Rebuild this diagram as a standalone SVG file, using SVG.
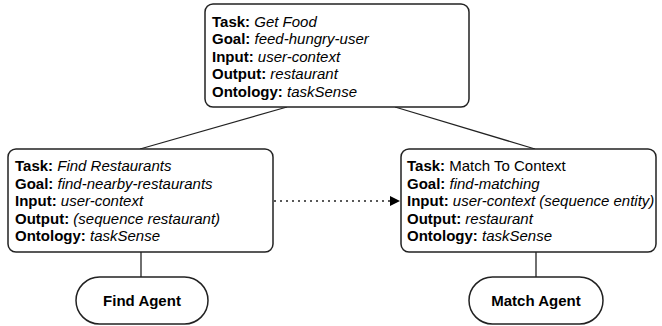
<svg xmlns="http://www.w3.org/2000/svg" width="662" height="326" viewBox="0 0 662 326">
<defs>
<style>
.box{fill:#fff;stroke:#222;stroke-width:1.5}
.ln{stroke:#222;stroke-width:1.3;fill:none}
text{font-family:"Liberation Sans",Arial,sans-serif;font-size:15px;fill:#000}
.b{font-weight:bold}
.i{font-style:italic}
.c{text-anchor:middle}
</style>
<marker id="ah" viewBox="0 0 10 10" refX="10" refY="5" markerWidth="10" markerHeight="10" markerUnits="userSpaceOnUse" orient="auto">
<path d="M0,0 L10,5 L0,10 z" fill="#000"/>
</marker>
</defs>
<g id="connectors">
<line class="ln" x1="287" y1="107" x2="140" y2="149"/>
<line class="ln" x1="395" y1="107" x2="535" y2="149"/>
<line class="ln" x1="141" y1="252" x2="141" y2="277"/>
<line class="ln" x1="536" y1="252" x2="536" y2="277"/>
<line class="ln" x1="274" y1="201" x2="400" y2="201" stroke-dasharray="2,4" marker-end="url(#ah)"/>
</g>
<g id="get-food">
<rect class="box" x="205" y="4" width="264" height="103" rx="8"/>
<text x="212" y="26.5"><tspan class="b">Task:</tspan> <tspan class="i">Get Food</tspan></text>
<text x="212" y="44"><tspan class="b">Goal:</tspan> <tspan class="i">feed-hungry-user</tspan></text>
<text x="212" y="61.5"><tspan class="b">Input:</tspan> <tspan class="i">user-context</tspan></text>
<text x="212" y="79"><tspan class="b">Output:</tspan> <tspan class="i">restaurant</tspan></text>
<text x="212" y="96.5"><tspan class="b">Ontology:</tspan> <tspan class="i">taskSense</tspan></text>
</g>
<g id="find-restaurants">
<rect class="box" x="8" y="149" width="265" height="103" rx="8"/>
<text x="15" y="171"><tspan class="b">Task:</tspan> <tspan class="i">Find Restaurants</tspan></text>
<text x="15" y="188.5"><tspan class="b">Goal:</tspan> <tspan class="i">find-nearby-restaurants</tspan></text>
<text x="15" y="206"><tspan class="b">Input:</tspan> <tspan class="i">user-context</tspan></text>
<text x="15" y="223.5"><tspan class="b">Output:</tspan> <tspan class="i">(sequence restaurant)</tspan></text>
<text x="15" y="241"><tspan class="b">Ontology:</tspan> <tspan class="i">taskSense</tspan></text>
</g>
<g id="match-to-context">
<rect class="box" x="401" y="149" width="255" height="103" rx="8"/>
<text x="407" y="171"><tspan class="b">Task:</tspan> Match To Context</text>
<text x="407" y="188.5"><tspan class="b">Goal:</tspan> <tspan class="i">find-matching</tspan></text>
<text x="407" y="206"><tspan class="b">Input:</tspan> <tspan class="i">user-context (sequence entity)</tspan></text>
<text x="407" y="223.5"><tspan class="b">Output:</tspan> <tspan class="i">restaurant</tspan></text>
<text x="407" y="241"><tspan class="b">Ontology:</tspan> <tspan class="i">taskSense</tspan></text>
</g>
<g id="find-agent">
<rect class="box" x="76" y="277" width="132" height="47" rx="23.5"/>
<text class="b c" x="142" y="305.5">Find Agent</text>
</g>
<g id="match-agent">
<rect class="box" x="469" y="277" width="134" height="47" rx="23.5"/>
<text class="b c" x="536" y="305.5">Match Agent</text>
</g>
</svg>
